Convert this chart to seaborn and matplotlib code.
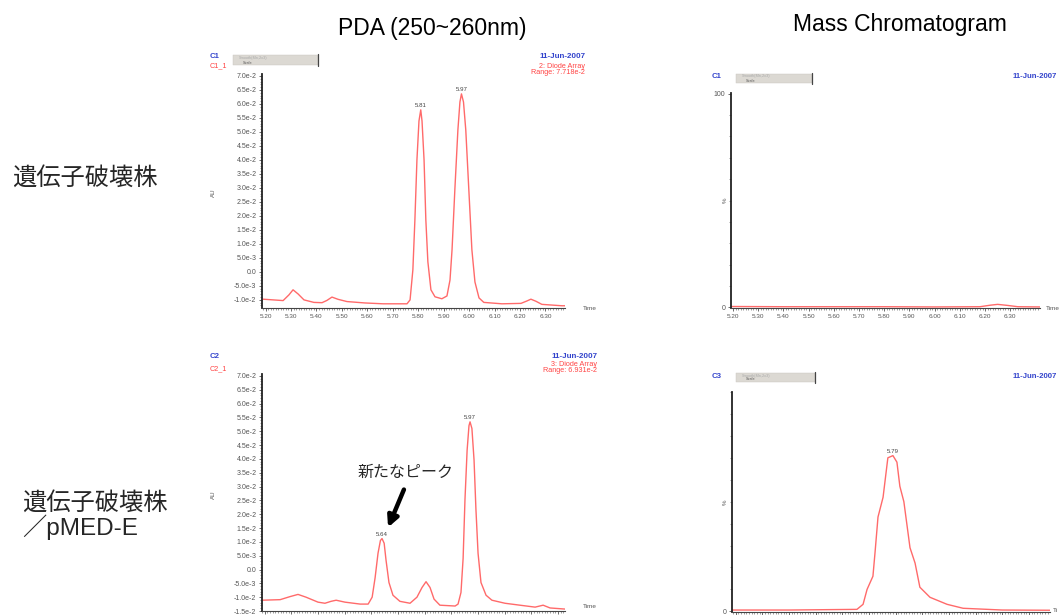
import numpy as np
import pandas as pd
import matplotlib
matplotlib.use("Agg")
import matplotlib.pyplot as plt
from matplotlib.patches import Rectangle, FancyArrowPatch
from matplotlib.lines import Line2D
from matplotlib.ticker import FixedLocator, MultipleLocator
import seaborn as sns

# ---------------- data ----------------
# PDA trace (250~260 nm), knockout strain  (time in min, absorbance in AU)
pda_ko_time = [5.190, 5.269, 5.292, 5.308, 5.328, 5.351, 5.390, 5.422, 5.441, 5.461,
               5.485, 5.520, 5.591, 5.662, 5.756, 5.768, 5.779, 5.787, 5.795, 5.803,
               5.810, 5.815, 5.823, 5.830, 5.838, 5.850, 5.866, 5.893, 5.913, 5.925,
               5.933, 5.944, 5.956, 5.964, 5.970, 5.978, 5.987, 5.999, 6.011, 6.023,
               6.039, 6.058, 6.129, 6.204, 6.227, 6.243, 6.263, 6.286, 6.365, 6.377]
pda_ko_au = [-0.00975, -0.01025, -0.0082, -0.0064, -0.0079, -0.0100, -0.0109, -0.0110, -0.0102, -0.0090,
             -0.0098, -0.0106, -0.0111, -0.0114, -0.0114, -0.0100, 0.0007, 0.0186, 0.0400, 0.0539,
             0.0579, 0.0539, 0.0400, 0.0186, 0.0036, -0.0064, -0.0089, -0.0096, -0.0086, -0.0029,
             0.0079, 0.0293, 0.0507, 0.0607, 0.0636, 0.0607, 0.0507, 0.0293, 0.0079, -0.0036,
             -0.0093, -0.0109, -0.0114, -0.01125, -0.0104, -0.00975, -0.0105, -0.0116, -0.0121, -0.0121]

# PDA trace, knockout strain / pMED-E
pda_med_time = [5.190, 5.258, 5.295, 5.325, 5.355, 5.400, 5.426, 5.449, 5.468, 5.501,
                5.558, 5.588, 5.603, 5.614, 5.625, 5.634, 5.640, 5.648, 5.655, 5.666,
                5.681, 5.707, 5.745, 5.771, 5.790, 5.805, 5.820, 5.835, 5.857, 5.914,
                5.925, 5.936, 5.944, 5.951, 5.959, 5.966, 5.970, 5.977, 5.985, 5.992,
                6.000, 6.011, 6.030, 6.052, 6.101, 6.157, 6.214, 6.244, 6.270, 6.326]
pda_med_au = [-0.0111, -0.0109, -0.0098, -0.0090, -0.0100, -0.0118, -0.0122, -0.0115, -0.0111, -0.0118,
              -0.0125, -0.0125, -0.0100, -0.0030, 0.0059, 0.0105, 0.0112, 0.0095, 0.0034, -0.0047,
              -0.0093, -0.0115, -0.0122, -0.0100, -0.0065, -0.0044, -0.0065, -0.0107, -0.0129, -0.0132,
              -0.0125, -0.0083, 0.0040, 0.0253, 0.0431, 0.0520, 0.0534, 0.0510, 0.0396, 0.0219,
              0.0059, -0.0047, -0.0093, -0.0111, -0.0122, -0.0129, -0.0136, -0.0129, -0.0139, -0.0143]

# Mass chromatogram, knockout strain (relative intensity, %)
mass_ko_time = [5.192, 5.400, 5.600, 5.800, 6.000, 6.180, 6.220, 6.250, 6.290, 6.330, 6.418]
mass_ko_pct = [0.4, 0.3, 0.3, 0.3, 0.2, 0.3, 1.0, 1.4, 0.9, 0.3, 0.2]

# Mass chromatogram, knockout strain / pMED-E
mass_med_time = [5.187, 5.400, 5.655, 5.678, 5.693, 5.715, 5.723, 5.734, 5.753, 5.771,
                 5.790, 5.805, 5.816, 5.831, 5.854, 5.873, 5.891, 5.929, 5.993, 6.053,
                 6.200, 6.379]
mass_med_pct = [0.6, 0.6, 0.9, 3.2, 10.0, 16.0, 27.0, 43.0, 52.0, 70.0,
                71.0, 68.0, 57.0, 50.0, 29.0, 22.0, 11.0, 6.4, 3.2, 1.4,
                0.6, 0.5]

pda_ko_peaks = [5.81, 5.97]
pda_med_peaks = [5.64, 5.97]
mass_med_peaks = [5.79]

time_ticks = [5.20, 5.30, 5.40, 5.50, 5.60, 5.70, 5.80, 5.90, 6.00, 6.10, 6.20, 6.30]
time_tick_labels = ["5.20", "5.30", "5.40", "5.50", "5.60", "5.70",
                    "5.80", "5.90", "6.00", "6.10", "6.20", "6.30"]

pda_ko_yticks = [-0.010, -0.005, 0.0, 0.005, 0.010, 0.015, 0.020, 0.025, 0.030,
                 0.035, 0.040, 0.045, 0.050, 0.055, 0.060, 0.065, 0.070]
pda_ko_ylabels = ["-1.0e-2", "-5.0e-3", "0.0", "5.0e-3", "1.0e-2", "1.5e-2", "2.0e-2",
                  "2.5e-2", "3.0e-2", "3.5e-2", "4.0e-2", "4.5e-2", "5.0e-2", "5.5e-2",
                  "6.0e-2", "6.5e-2", "7.0e-2"]
pda_med_yticks = [-0.015] + pda_ko_yticks
pda_med_ylabels = ["-1.5e-2"] + pda_ko_ylabels

titles = ["PDA (250~260nm)", "Mass Chromatogram"]
row_labels = ["遺伝子破壊株", "遺伝子破壊株", "／pMED-E"]
callout = "新たなピーク"

# ---------------- figure ----------------
W, H = 1059, 615
sns.set_style("white")
plt.rcParams["font.family"] = ["Liberation Sans", "Noto Sans CJK JP", "DejaVu Sans"]

fig = plt.figure(figsize=(W / 100, H / 100), dpi=100)
fig.patch.set_facecolor("white")

TRACE = "#ff6a6a"
BLUE = "#3344cc"
RED = "#ff4444"
TICKTXT = "#555555"
CJK = ["Noto Sans CJK JP", "DejaVu Sans"]
LATIN_CJK = ["Liberation Sans", "Noto Sans CJK JP"]


def fx(x):
    return x / W


def fy(y):
    return 1 - y / H


def make_axes(x0, y0, x1, y1, xlabels=True):
    ax = fig.add_axes([fx(x0), fy(y1), (x1 - x0) / W, (y1 - y0) / H])
    ax.set_facecolor("none")
    for s in ("top", "right"):
        ax.spines[s].set_visible(False)
    ax.spines["left"].set_color("#222222")
    ax.spines["left"].set_linewidth(1.3)
    ax.spines["bottom"].set_color("#444444")
    ax.spines["bottom"].set_linewidth(0.8)
    ax.tick_params(axis="both", which="major", length=2.5, width=0.5, color="#333333",
                   labelsize=4.6, labelcolor=TICKTXT, pad=1.5, left=True, bottom=True)
    ax.tick_params(axis="y", which="major", labelsize=5.0)
    ax.tick_params(axis="both", which="minor", length=1.3, width=0.4, color="#555555",
                   left=True, bottom=True)
    ax.xaxis.set_minor_locator(MultipleLocator(0.01))
    ax.set_xticks(time_ticks)
    if xlabels:
        ax.set_xticklabels(time_tick_labels)
    else:
        ax.tick_params(axis="x", which="both", labelbottom=False)
    ax.grid(False)
    return ax


def trace(ax, t, v):
    df = pd.DataFrame({"time": t, "value": v})
    sns.lineplot(data=df, x="time", y="value", ax=ax, color=TRACE, linewidth=1.0,
                 estimator=None, sort=False)
    ax.set_xlabel("")
    ax.set_ylabel("")


def peak_labels(ax, t, v, peaks):
    t = np.asarray(t)
    v = np.asarray(v)
    for p in peaks:
        i = int(np.argmin(np.abs(t - p)))
        ax.annotate(f"{p:.2f}", xy=(p, v[i]), xytext=(0, 1.2), textcoords="offset points",
                    ha="center", va="bottom", fontsize=4.4, color="#444444")


def small(x, y, s, color, ha="left", size=5.2, weight="normal"):
    fig.text(fx(x), fy(y), s, color=color, ha=ha, va="center", fontsize=size,
             fontweight=weight)


def header_box(x0, y0, x1, y1):
    fig.patches.append(Rectangle((fx(x0), fy(y1)), (x1 - x0) / W, (y1 - y0) / H,
                                 transform=fig.transFigure, facecolor="#dcd9d3",
                                 edgecolor="#c8c5bf", linewidth=0.3))
    fig.lines.append(Line2D([fx(x1), fx(x1)], [fy(y0 - 1), fy(y1 + 1)],
                            transform=fig.transFigure, color="#444444", linewidth=0.9))
    fig.text(fx(x0 + 6), fy(y0 + 2.5), "Smooth(Mn,2x3)", fontsize=2.8, color="#aaaaaa",
             va="center")
    fig.text(fx(x0 + 10), fy(y1 - 2.5), "Scale", fontsize=2.8, color="#555555", va="center")


# ---- column titles and row labels ----
fig.text(fx(432), fy(28), titles[0], ha="center", va="center", fontsize=16.5, color="black")
fig.text(fx(900), fy(25), titles[1], ha="center", va="center", fontsize=16.5, color="black")
fig.text(fx(12), fy(178), row_labels[0], ha="left", va="center", fontsize=17.5, family=CJK)
fig.text(fx(22), fy(503), row_labels[1], ha="left", va="center", fontsize=17.5, family=CJK)
fig.text(fx(22), fy(527), row_labels[2], ha="left", va="center", fontsize=17.5,
         family=LATIN_CJK)

# ---- top-left: PDA, knockout ----
ax1 = make_axes(262, 74, 565, 308)
trace(ax1, pda_ko_time, pda_ko_au)
ax1.set_xlim(5.186, 6.377)
ax1.set_ylim(-0.0129, 0.0707)
ax1.yaxis.set_major_locator(FixedLocator(pda_ko_yticks))
ax1.set_yticklabels(pda_ko_ylabels)
ax1.yaxis.set_minor_locator(MultipleLocator(0.001))
peak_labels(ax1, pda_ko_time, pda_ko_au, pda_ko_peaks)
fig.text(fx(213), fy(193), "AU", rotation=90, fontsize=4.4, color=TICKTXT, ha="center", va="center")
small(583, 308, "Time", TICKTXT, size=4.6)
small(210, 57, "C1", BLUE, weight="bold", size=5.6)
small(210, 66, "C1_1", RED)
small(585, 57, "11-Jun-2007", BLUE, ha="right", weight="bold", size=5.8)
small(585, 66.5, "2: Diode Array", RED, ha="right")
small(585, 72.5, "Range: 7.718e-2", RED, ha="right")
header_box(233, 55, 318, 65)

# ---- top-right: mass chromatogram, knockout ----
ax2 = make_axes(731, 93, 1040, 308)
trace(ax2, mass_ko_time, mass_ko_pct)
ax2.set_xlim(5.192, 6.418)
ax2.set_ylim(-0.3, 100.3)
ax2.set_yticks([0, 100])
ax2.set_yticklabels(["0", "100"])
ax2.yaxis.set_minor_locator(MultipleLocator(10))
fig.text(fx(725), fy(200), "%", rotation=90, fontsize=4.4, color=TICKTXT, ha="center", va="center")
small(1046, 308, "Time", TICKTXT, size=4.6)
small(712, 77, "C1", BLUE, weight="bold", size=5.6)
small(1057, 77, "11-Jun-2007", BLUE, ha="right", weight="bold", size=5.6)
header_box(736, 74, 812, 83)

# ---- bottom-left: PDA, knockout / pMED-E ----
ax3 = make_axes(262, 374, 565, 611, xlabels=False)
trace(ax3, pda_med_time, pda_med_au)
ax3.set_xlim(5.19, 6.326)
ax3.set_ylim(-0.0150, 0.0707)
ax3.yaxis.set_major_locator(FixedLocator(pda_med_yticks))
ax3.set_yticklabels(pda_med_ylabels)
ax3.yaxis.set_minor_locator(MultipleLocator(0.001))
peak_labels(ax3, pda_med_time, pda_med_au, pda_med_peaks)
fig.text(fx(213), fy(495), "AU", rotation=90, fontsize=4.4, color=TICKTXT, ha="center", va="center")
small(583, 607, "Time", TICKTXT, size=4.6)
small(210, 357, "C2", BLUE, weight="bold", size=5.6)
small(210, 368.5, "C2_1", RED)
small(597, 356, "11-Jun-2007", BLUE, ha="right", weight="bold", size=5.8)
small(597, 365, "3: Diode Array", RED, ha="right")
small(597, 371, "Range: 6.931e-2", RED, ha="right")

# callout for the new peak
fig.text(fx(406), fy(472), callout, ha="center", va="center", fontsize=11.5, family=CJK)
fig.patches.append(FancyArrowPatch((fx(405), fy(487)), (fx(387), fy(530)),
                                   transform=fig.transFigure, arrowstyle="-|>",
                                   mutation_scale=16, linewidth=3.2, color="black"))

# ---- bottom-right: mass chromatogram, knockout / pMED-E ----
ax4 = make_axes(732, 392, 1050, 612, xlabels=False)
trace(ax4, mass_med_time, mass_med_pct)
ax4.set_xlim(5.1865, 6.379)
ax4.set_ylim(-0.3, 100)
ax4.set_yticks([0])
ax4.set_yticklabels(["0"])
ax4.yaxis.set_minor_locator(MultipleLocator(10))
peak_labels(ax4, mass_med_time, mass_med_pct, mass_med_peaks)
fig.text(fx(725), fy(502), "%", rotation=90, fontsize=4.4, color=TICKTXT, ha="center", va="center")
small(1053, 610, "Ti", TICKTXT, size=4.6)
small(712, 377, "C3", BLUE, weight="bold", size=5.6)
small(1057, 377, "11-Jun-2007", BLUE, ha="right", weight="bold", size=5.6)
header_box(736, 373, 815, 382)

fig.savefig("out.png", dpi=100, facecolor="white")
